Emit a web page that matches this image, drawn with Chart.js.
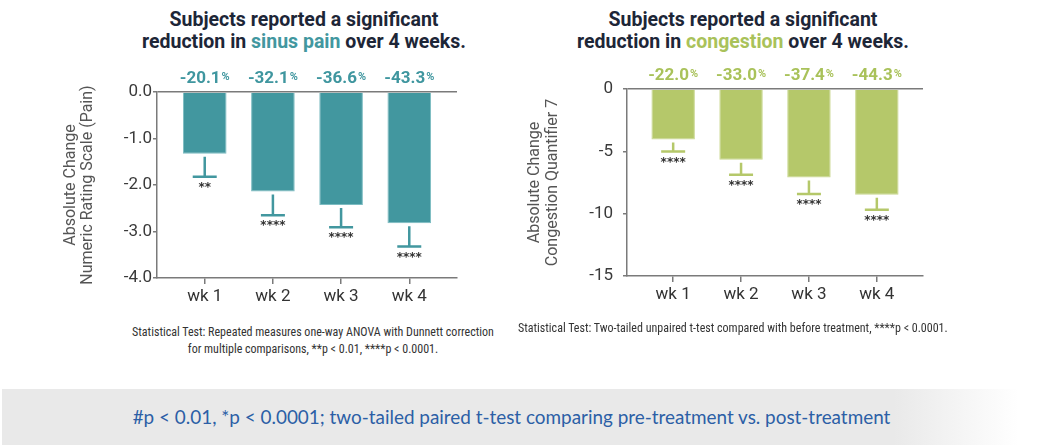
<!DOCTYPE html>
<html>
<head>
<meta charset="utf-8">
<script src="https://cdn.jsdelivr.net/npm/chart.js@4"></script>
<style>
  body { margin: 0; background: #fff; }
  #page { position: relative; width: 1039px; height: 448px; overflow: hidden; font-family: Roboto, sans-serif; }
  .title { position: absolute; width: 420px; text-align: center; font-weight: bold; font-size: 19.5px; line-height: 22px; color: #1d2637; }
  .note { position: absolute; font-family: 'Liberation Sans Narrow', 'Roboto Condensed', Roboto, sans-serif; font-size: 12px; line-height: 17px; color: #333; }
  canvas { position: absolute; }
  #banner { position: absolute; left: 2px; top: 389px; width: 1019px; padding-right: 18px; height: 56px;
    background: linear-gradient(to right, #e9e9e9 0%, #e9e9e9 86%, #ffffff 98%);
    color: #2c5fa6; font-family: Lato, sans-serif; font-size: 18.9px; line-height: 56px; text-align: center; }
</style>
</head>
<body>
<div id="page">
  <div class="title" style="left:94px; top:9px;">Subjects reported a significant<br>reduction in <span style="color:#42979f">sinus pain</span> over 4 weeks.</div>
  <div class="title" style="left:533px; top:9px;">Subjects reported a significant<br>reduction in <span style="color:#a9c25a">congestion</span> over 4 weeks.</div>
  <div style="position:absolute; left:0; top:0; width:500px; height:320px;"><canvas id="painChart" width="500" height="320"></canvas></div>
  <div style="position:absolute; left:480px; top:0; width:520px; height:320px;"><canvas id="congChart" width="520" height="320"></canvas></div>
  <div class="note" style="left:113px; top:324px; width:400px; text-align:center;">Statistical Test: Repeated measures one-way ANOVA with Dunnett correction<br>for multiple comparisons, **p &lt; 0.01, ****p &lt; 0.0001.</div>
  <div class="note" style="left:518px; top:320px; width:480px;">Statistical Test: Two-tailed unpaired t-test compared with before treatment, ****p &lt; 0.0001.</div>
  <div id="banner">#p &lt; 0.01, *p &lt; 0.0001; two-tailed paired t-test comparing pre-treatment vs. post-treatment</div>
</div>
<script>
const weeks = ['wk 1', 'wk 2', 'wk 3', 'wk 4'];

const painMean = [-1.33, -2.14, -2.43, -2.82];
const painErrLow = [-1.82, -2.65, -2.91, -3.32];
const painPct = ['-20.1', '-32.1', '-36.6', '-43.3'];
const painSig = ['**', '****', '****', '****'];
const painTicks = [0, -1, -2, -3, -4];

const congMean = [-4.06, -5.68, -7.10, -8.48];
const congErrLow = [-5.02, -6.88, -8.43, -9.68];
const congPct = ['-22.0', '-33.0', '-37.4', '-44.3'];
const congSig = ['****', '****', '****', '****'];
const congTicks = [0, -5, -10, -15];

// error whiskers, significance stars and percent labels
const extrasPlugin = {
    id: 'extras',
    afterDatasetsDraw(chart, args, opts) {
        const ctx = chart.ctx;
        const xs = chart.scales.x, ys = chart.scales.y;
        const meta = chart.getDatasetMeta(0);
        ctx.save();
        opts.errLow.forEach((low, i) => {
            const x = xs.getPixelForValue(i + 1);
            const barBottom = meta.data[i].y;
            const yEnd = ys.getPixelForValue(low);
            ctx.strokeStyle = opts.color;
            ctx.lineWidth = 2.5;
            ctx.beginPath();
            ctx.moveTo(x, barBottom + 3);
            ctx.lineTo(x, yEnd);
            ctx.moveTo(x - 12, yEnd);
            ctx.lineTo(x + 12, yEnd);
            ctx.stroke();

            ctx.fillStyle = '#333';
            ctx.font = 'bold 12px "DejaVu Sans"';
            ctx.textAlign = 'center';
            ctx.textBaseline = 'middle';
            ctx.fillText(opts.sig[i], x, yEnd + 11);

            // percent label above the plot
            const num = opts.pct[i];
            ctx.font = 'bold 17px Roboto';
            const w1 = ctx.measureText(num).width;
            ctx.font = 'bold 11px Roboto';
            const w2 = ctx.measureText('%').width;
            const start = x - (w1 + w2 + 1) / 2;
            const yTop = chart.chartArea.top - 15;
            ctx.fillStyle = opts.pctColor;
            ctx.textAlign = 'left';
            ctx.textBaseline = 'alphabetic';
            ctx.font = 'bold 17px Roboto';
            ctx.fillText(num, start, yTop + 6);
            ctx.font = 'bold 11px Roboto';
            ctx.fillText('%', start + w1 + 1, yTop + 3);
        });
        ctx.restore();
    }
};

function makeChart(id, cfg) {
    return new Chart(document.getElementById(id).getContext('2d'), {
        type: 'bar',
        data: {
            datasets: [{
                data: cfg.mean.map((v, i) => ({ x: i + 1, y: v })),
                backgroundColor: cfg.color,
                borderColor: cfg.border,
                borderWidth: 1,
                barPercentage: 0.8,
                categoryPercentage: 0.8
            }]
        },
        options: {
            responsive: false,
            animation: false,
            layout: { padding: cfg.padding },
            plugins: {
                legend: { display: false },
                tooltip: { enabled: false },
                extras: { errLow: cfg.errLow, sig: cfg.sig, pct: cfg.pct, color: cfg.color, pctColor: cfg.pctColor }
            },
            scales: {
                x: {
                    type: 'linear',
                    min: cfg.xMin,
                    max: cfg.xMax,
                    offset: false,
                    afterBuildTicks: s => { s.ticks = weeks.map((w, i) => ({ value: i + 1 })); },
                    afterFit: s => { s.height = cfg.xHeight; },
                    grid: { offset: false, drawOnChartArea: false, drawTicks: true, tickLength: 6, color: '#7a7a7a', lineWidth: 1.5 },
                    border: { display: true, color: '#7a7a7a', width: 1.5 },
                    ticks: {
                        padding: 3,
                        color: '#333',
                        font: { family: 'Roboto', size: 17 },
                        callback: v => weeks[v - 1]
                    }
                },
                y: {
                    min: cfg.ticks[cfg.ticks.length - 1],
                    max: 0,
                    afterBuildTicks: s => { s.ticks = cfg.ticks.map(v => ({ value: v })); },
                    afterFit: s => { s.width = cfg.yWidth; },
                    grid: {
                        drawOnChartArea: true,
                        drawTicks: true,
                        tickLength: 4,
                        color: ctx => (ctx.tick && ctx.tick.value === 0) ? '#7a7a7a' : 'rgba(0,0,0,0)',
                        tickColor: '#7a7a7a',
                        lineWidth: 1.5
                    },
                    border: { display: true, color: '#7a7a7a', width: 1.5 },
                    ticks: {
                        padding: cfg.yPad,
                        color: '#3a3a3a',
                        font: { family: 'Roboto', size: 17 },
                        callback: cfg.fmt
                    },
                    title: {
                        display: true,
                        text: cfg.yTitle,
                        color: '#555',
                        font: { family: 'Roboto', size: 16, lineHeight: cfg.titleLH },
                        padding: { top: cfg.titlePad, bottom: 0 }
                    }
                }
            }
        },
        plugins: [extrasPlugin]
    });
}

makeChart('painChart', {
    mean: painMean, errLow: painErrLow, sig: painSig, pct: painPct, ticks: painTicks,
    color: '#42979f', border: '#7cbcc2', pctColor: '#3f969f',
    padding: { top: 92, right: 43, left: 0, bottom: 0 },
    xMin: 0.3, xMax: 4.7, xHeight: 42, yWidth: 157, yPad: 1,
    yTitle: ['Absolute Change', 'Numeric Rating Scale (Pain)'], titleLH: 1.05, titlePad: 63,
    fmt: v => v.toFixed(1)
});

makeChart('congChart', {
    mean: congMean, errLow: congErrLow, sig: congSig, pct: congPct, ticks: congTicks,
    color: '#b5c86a', border: '#c9d78f', pctColor: '#a9c25a',
    padding: { top: 89, right: 77, left: 0, bottom: 0 },
    xMin: 0.32, xMax: 4.68, xHeight: 44, yWidth: 147, yPad: 10,
    yTitle: ['Absolute Change', 'Congestion Quantifier 7'], titleLH: 1.13, titlePad: 46,
    fmt: v => String(v)
});
</script>
</body>
</html>
